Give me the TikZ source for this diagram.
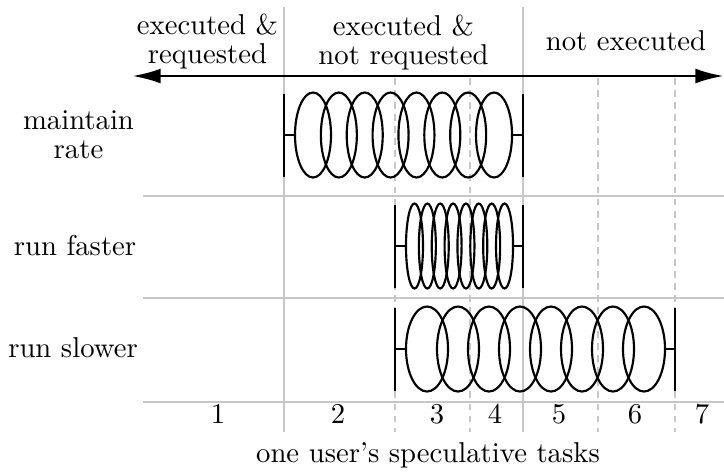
\documentclass[tikz,border=0pt]{standalone}
\usetikzlibrary{arrows.meta}
\begin{document}
\begin{tikzpicture}[x=0.3484pt,y=-0.3484pt,
  guide/.style={draw=black!22,line width=0.6pt},
  subguide/.style={guide,dash pattern=on 2.4pt off 1.8pt},
  coil/.style={draw=black,line width=0.75pt},
  endbar/.style={draw=black,line width=0.85pt},
  timeline/.style={draw=black,line width=1pt,{Latex[length=10pt,width=5.2pt]}-{Latex[length=10pt,width=5.2pt]}},
  lbl/.style={inner sep=0pt,align=center,font=\fontsize{10pt}{9.8pt}\selectfont},
  num/.style={lbl,anchor=base}]
\useasboundingbox (0,0) rectangle (724,471);

% row separators and column boundaries
\foreach \y in {196,298,402} \draw[guide] (143,\y) -- (724,\y);
\foreach \x in {284,523} \draw[guide] (\x,7) -- (\x,432);
\foreach \x in {395,470,598,675} \draw[subguide] (\x,78) -- (\x,432);

% time line with heads at both ends
\coordinate (past) at (132,76);
\coordinate (future) at (724,76);
\draw[timeline] (past) -- (future);

% a coil of eight loops between two end bars
% #1 name, #2 left bar, #3 right bar, #4 centre y, #5 first loop x, #6 loop step, #7 loop half-width
\newcommand\taskcoil[7]{%
  \coordinate (#1-l) at (#2,#4);
  \coordinate (#1-r) at (#3,#4);
  \coordinate (#1-a) at ({#5-#7},#4);
  \coordinate (#1-b) at ({#5+7*#6+#7},#4);
  \draw[endbar] (#2,{#4-41.5}) -- (#2,{#4+41.5});
  \draw[endbar] (#3,{#4-41.5}) -- (#3,{#4+41.5});
  \draw[coil] (#1-l) -- (#1-a);
  \draw[coil] (#1-b) -- (#1-r);
  \foreach \i in {0,...,7}
    \draw[coil] ({#5+\i*#6},#4) ellipse [x radius=#7, y radius=42.5];
}
\taskcoil{keep}{284}{523}{135}{313}{25.86}{18}
\taskcoil{fast}{395}{523}{246}{414.5}{12.86}{8.5}
\taskcoil{slow}{395}{675}{349}{427}{31}{21}

% column headings (base anchor sits on the last line)
\node[lbl,anchor=base] (done) at (207.5,63) {executed \&\\requested};
\node[lbl,anchor=base] (extra) at (403.5,64) {executed \&\\not requested};
\node[lbl,anchor=base] (pending) at (626,50) {not executed};

% row labels
\node[lbl,anchor=base] (maintain) at (78.5,158) {maintain\\rate};
\node[lbl,anchor=base] (faster) at (75,255) {run faster};
\node[lbl,anchor=base] (slower) at (73,357) {run slower};

% task numbers
\node[num] (t1) at (218,423) {1};
\node[num] (t2) at (338,423) {2};
\node[num] (t3) at (437,423) {3};
\node[num] (t4) at (495,423) {4};
\node[num] (t5) at (559,423) {5};
\node[num] (t6) at (635,423) {6};
\node[num] (t7) at (702,423) {7};
\node[num] (axis) at (428,462) {one user's speculative tasks};
\end{tikzpicture}
\end{document}
